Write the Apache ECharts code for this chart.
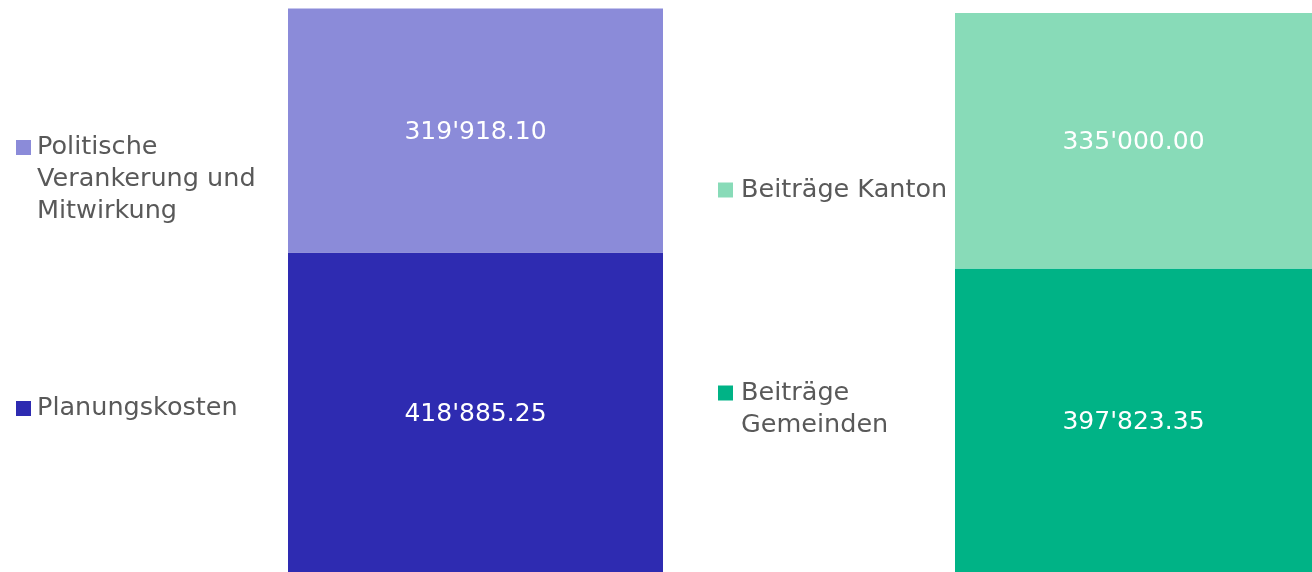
<!DOCTYPE html>
<html>
<head>
<meta charset="utf-8">
<script src="https://cdn.jsdelivr.net/npm/echarts@6/dist/echarts.min.js"></script>
<style>
html,body{margin:0;padding:0;background:#fff;}
#c{width:1312px;height:572px;}
</style>
</head>
<body>
<div id="c"></div>
<script>
// Data
var costCategory = ['Kosten'];
var fundCategory = ['Finanzierung'];
var costNames = ['Planungskosten', 'Politische Verankerung und Mitwirkung'];
var costValues = [418885.25, 319918.10];
var fundNames = ['Beiträge Gemeinden', 'Beiträge Kanton'];
var fundValues = [397823.35, 335000.00];
var legendLabels = {
  'Politische Verankerung und Mitwirkung': ['Politische', 'Verankerung und', 'Mitwirkung'],
  'Planungskosten': ['Planungskosten'],
  'Beiträge Kanton': ['Beiträge Kanton'],
  'Beiträge Gemeinden': ['Beiträge', 'Gemeinden']
};

var colors = {
  'Planungskosten': '#2E2BB1',
  'Politische Verankerung und Mitwirkung': '#8B8BD9',
  'Beiträge Gemeinden': '#00B386',
  'Beiträge Kanton': '#88DBB8'
};

function fmt(v) {
  var parts = v.toFixed(2).split('.');
  parts[0] = parts[0].replace(/\B(?=(\d{3})+(?!\d))/g, "'");
  return parts[0] + '.' + parts[1];
}

var FONT = 'DejaVu Sans';
var FS = 25.5;
var LH = 32;

function mkSeries(name, value, idx, stack) {
  return {
    name: name,
    type: 'bar',
    stack: stack,
    xAxisIndex: idx,
    yAxisIndex: idx,
    barWidth: '100%',
    data: [value],
    itemStyle: { color: colors[name] },
    label: {
      show: true,
      position: 'inside',
      offset: [0, 2],
      color: '#ffffff',
      fontFamily: FONT,
      fontSize: 25,
      formatter: function (p) { return fmt(p.value); }
    }
  };
}

function mkLegend(name, left, firstLineCenter, gap) {
  var lines = legendLabels[name];
  var n = lines.length;
  var parts = [];
  for (var i = 0; i < n - 1; i++) parts.push('{s|}');
  for (var j = 0; j < n; j++) parts.push('{s|}{t|' + lines[j] + '}');
  var txt = parts.join('\n');
  var boxH = (2 * n - 1) * LH;
  return {
    data: [name],
    left: left,
    top: firstLineCenter - boxH / 2,
    padding: 0,
    orient: 'vertical',
    icon: 'rect',
    itemWidth: 15,
    itemHeight: 15,
    formatter: function () { return txt; },
    textStyle: {
      color: '#595959',
      fontFamily: FONT,
      fontSize: FS,
      lineHeight: LH,
      rich: {
        s: { width: gap, lineHeight: LH },
        t: { color: '#595959', fontFamily: FONT, fontSize: FS, lineHeight: LH }
      }
    }
  };
}

var chart = echarts.init(document.getElementById('c'), null, { renderer: 'canvas' });
chart.setOption({
  animation: false,
  backgroundColor: '#ffffff',
  grid: [
    { left: 288, width: 375, top: 0, height: 575.5 },
    { left: 955, width: 375, top: 0, height: 575.5 }
  ],
  xAxis: [
    { type: 'category', gridIndex: 0, data: costCategory, show: false },
    { type: 'category', gridIndex: 1, data: fundCategory, show: false }
  ],
  yAxis: [
    { type: 'value', gridIndex: 0, min: 0, max: 750000, show: false },
    { type: 'value', gridIndex: 1, min: 0, max: 750000, show: false }
  ],
  legend: [
    mkLegend('Politische Verankerung und Mitwirkung', 16, 147.5, 1),
    mkLegend('Planungskosten', 16, 408.5, 1),
    mkLegend('Beiträge Kanton', 718, 190, 3),
    mkLegend('Beiträge Gemeinden', 718, 393, 3)
  ],
  series: [
    mkSeries(costNames[0], costValues[0], 0, 'cost'),
    mkSeries(costNames[1], costValues[1], 0, 'cost'),
    mkSeries(fundNames[0], fundValues[0], 1, 'fund'),
    mkSeries(fundNames[1], fundValues[1], 1, 'fund')
  ]
});
</script>
</body>
</html>
